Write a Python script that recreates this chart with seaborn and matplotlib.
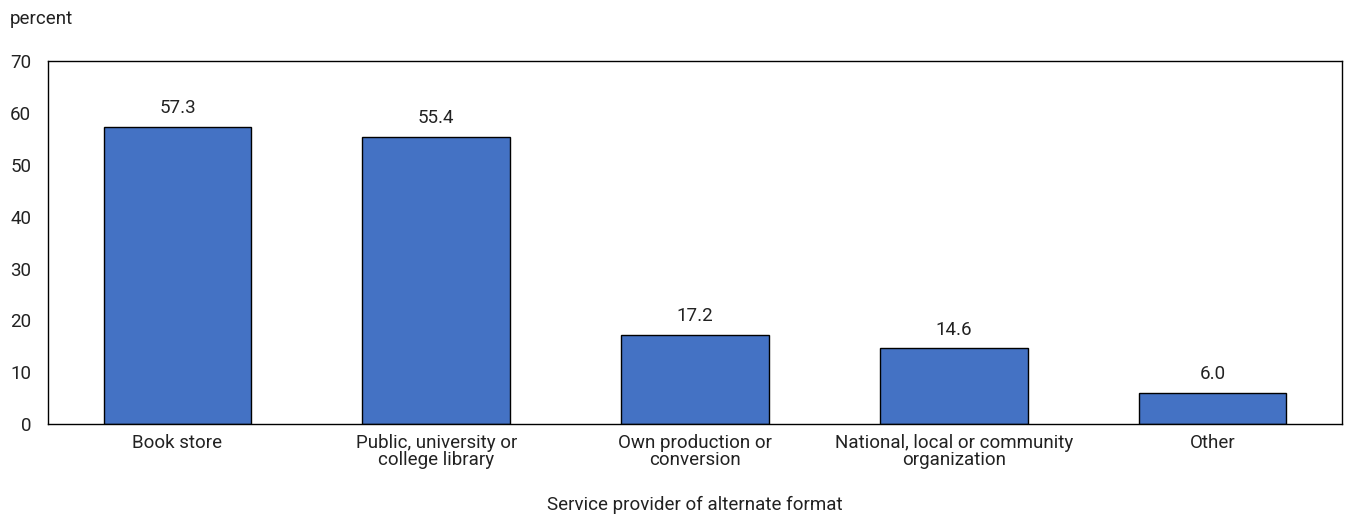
import matplotlib
matplotlib.use("Agg")
import matplotlib.pyplot as plt
import seaborn as sns
import pandas as pd

categories = ["Book store", "Public, university or\ncollege library", "Own production or\nconversion",
              "National, local or community\norganization", "Other"]
values = [57.3, 55.4, 17.2, 14.6, 6.0]
y_ticks = [0, 10, 20, 30, 40, 50, 60, 70]

sns.set_style("white")
plt.rcParams['font.family'] = ['Roboto', 'DejaVu Sans']
fs = 13.5

df = pd.DataFrame({"provider": categories, "percent": values})

fig = plt.figure(figsize=(13.48, 5.14), dpi=100)
ax = fig.add_axes([0.0356, 0.175, 0.96, 0.706])
sns.barplot(data=df, x="provider", y="percent", color="#4472C4", saturation=1,
            edgecolor="black", linewidth=1, width=0.57, ax=ax)

for i, v in enumerate(values):
    ax.annotate(f"{v:.1f}", (i, v), xytext=(0, 7), textcoords="offset points",
                ha="center", va="bottom", fontsize=fs, color="#222222")

ax.set_ylim(0, 70)
ax.set_yticks(y_ticks)
ax.set_xlim(-0.5, len(categories) - 0.5)
ax.tick_params(axis="both", length=0, labelsize=fs, colors="#222222")
ax.tick_params(axis="x", pad=7)
ax.tick_params(axis="y", pad=12)
for lbl in ax.get_xticklabels():
    lbl.set_linespacing(0.95)
for s in ax.spines.values():
    s.set_visible(True)
    s.set_color("black")
    s.set_linewidth(1)
ax.set_ylabel("")
ax.set_xlabel("Service provider of alternate format", fontsize=fs, labelpad=19, color="#222222")
fig.text(0.007, 0.963, "percent", fontsize=fs, ha="left", va="center", color="#222222")

fig.savefig("out.png", dpi=100)
